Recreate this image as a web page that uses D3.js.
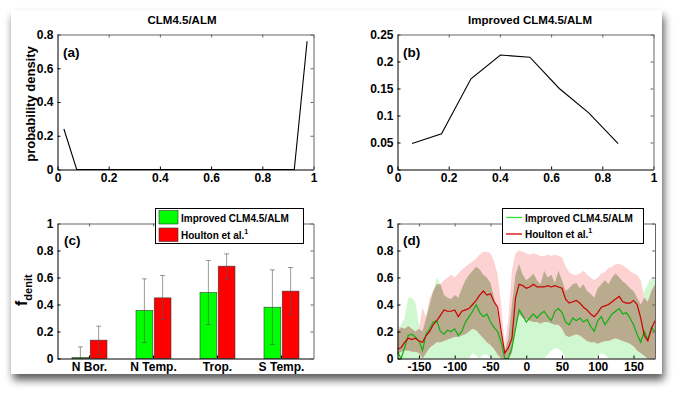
<!DOCTYPE html>
<html><head><meta charset="utf-8">
<script src="https://cdn.jsdelivr.net/npm/d3@7"></script>
<style>
body{margin:0;background:#fff;}
svg text{font-family:"Liberation Sans",Arial,Helvetica,sans-serif;font-weight:bold;}
</style></head><body>
<svg id="fig" width="680" height="395"></svg>
<script>
// ---------- data ----------
const titleA = "CLM4.5/ALM";
const titleB = "Improved CLM4.5/ALM";
// panel (a): probability density, CLM4.5/ALM
const binA = [0.025,0.075,0.125,0.175,0.225,0.275,0.325,0.375,0.425,0.475,0.525,0.575,0.625,0.675,0.725,0.775,0.825,0.875,0.925,0.975];
const densA = [0.24,0,0,0,0,0,0,0,0,0,0,0,0,0,0,0,0,0,0,0.76];
// panel (b): probability density, improved
const binB = [0.057,0.172,0.287,0.402,0.517,0.632,0.747,0.862];
const densB = [0.048,0.066,0.168,0.212,0.208,0.150,0.105,0.048];
// panel (c): regional f_denit
const regions = ["N Bor.","N Temp.","Trop.","S Temp."];
const seriesNames = ["Improved CLM4.5/ALM","Houlton et al."];
const fModel = [0.007,0.356,0.489,0.380];
const fModelLo = [0.0,0.118,0.252,0.104];
const fModelHi = [0.086,0.590,0.726,0.657];
const fHoulton = [0.136,0.449,0.684,0.499];
const fHoultonLo = [0.030,0.289,0.588,0.326];
const fHoultonHi = [0.240,0.615,0.775,0.674];
// panel (d): longitudinal f_denit
const lon = [-180,-175,-170,-165,-160,-155,-150,-145,-140,-135,-130,-125,-120,-115,-110,-105,-100,-95,-90,-85,-80,-75,-70,-65,-60,-55,-50,-45,-40,-35,-30,-25,-20,-15,-10,-5,0,5,10,15,20,25,30,35,40,45,50,55,60,65,70,75,80,85,90,95,100,105,110,115,120,125,130,135,140,145,150,155,160,165,170,175,180];
const redMean = [0.07,0.08,0.12,0.15,0.14,0.15,0.13,0.12,0.17,0.20,
  0.25,0.28,0.32,0.36,0.35,0.35,0.36,0.31,0.35,0.36,
  0.37,0.40,0.43,0.47,0.50,0.47,0.48,0.42,0.38,0.20,
  0.04,0.08,0.15,0.45,0.55,0.54,0.52,0.53,0.55,0.53,
  0.53,0.53,0.54,0.53,0.54,0.53,0.52,0.44,0.41,0.42,
  0.43,0.41,0.38,0.36,0.33,0.31,0.34,0.38,0.39,0.40,
  0.42,0.44,0.46,0.42,0.41,0.41,0.43,0.40,0.30,0.17,
  0.13,0.22,0.28];
const redUpper = [0.24,0.23,0.22,0.24,0.22,0.20,0.22,0.38,0.30,0.45,
  0.50,0.55,0.55,0.58,0.60,0.62,0.60,0.63,0.66,0.68,
  0.70,0.72,0.74,0.77,0.79,0.79,0.78,0.72,0.62,0.40,
  0.10,0.30,0.65,0.78,0.80,0.79,0.78,0.77,0.78,0.77,
  0.76,0.76,0.77,0.76,0.77,0.76,0.75,0.68,0.64,0.62,
  0.62,0.63,0.65,0.62,0.60,0.58,0.60,0.63,0.64,0.67,
  0.68,0.70,0.70,0.69,0.67,0.65,0.63,0.62,0.58,0.45,
  0.42,0.50,0.55];
const redLower = [0.03,0.05,0.06,0.06,0.05,0.05,0.04,0.00,0.04,0.08,
  0.10,0.12,0.12,0.13,0.14,0.15,0.16,0.16,0.17,0.18,
  0.20,0.22,0.21,0.18,0.15,0.12,0.10,0.07,0.03,0.00,
  0.00,0.00,0.04,0.25,0.33,0.30,0.29,0.28,0.27,0.27,
  0.26,0.27,0.27,0.26,0.25,0.25,0.22,0.17,0.16,0.17,
  0.18,0.17,0.15,0.13,0.12,0.12,0.11,0.12,0.13,0.13,
  0.14,0.15,0.14,0.13,0.12,0.11,0.09,0.06,0.04,0.02,
  0.00,0.00,0.00];
const greenMean = [0.05,0.00,0.08,0.17,0.18,0.16,0.13,0.06,0.18,0.22,
  0.27,0.28,0.20,0.18,0.21,0.20,0.22,0.17,0.20,0.27,
  0.31,0.35,0.40,0.34,0.31,0.33,0.27,0.23,0.20,0.12,
  0.00,0.00,0.08,0.22,0.36,0.32,0.27,0.30,0.33,0.30,
  0.33,0.35,0.31,0.28,0.35,0.37,0.34,0.27,0.25,0.30,
  0.28,0.30,0.27,0.29,0.24,0.20,0.28,0.31,0.25,0.29,
  0.33,0.35,0.37,0.33,0.34,0.30,0.25,0.18,0.12,0.20,
  0.14,0.23,0.20];
const greenUpper = [0.20,0.25,0.30,0.45,0.45,0.42,0.25,0.20,0.32,0.40,
  0.50,0.60,0.55,0.47,0.45,0.44,0.47,0.45,0.52,0.58,
  0.62,0.65,0.68,0.66,0.62,0.60,0.56,0.45,0.35,0.18,
  0.05,0.15,0.40,0.62,0.70,0.62,0.58,0.60,0.63,0.58,
  0.55,0.65,0.60,0.62,0.56,0.65,0.58,0.50,0.52,0.55,
  0.56,0.52,0.55,0.50,0.48,0.45,0.52,0.55,0.58,0.55,
  0.60,0.63,0.60,0.57,0.55,0.52,0.50,0.45,0.40,0.50,
  0.55,0.60,0.58];
const greenLower = [0,0,0,0,0,0,0,0,0,0,
  0,0,0,0,0,0,0,0,0,0,
  0,0.04,0.02,0,0.03,0.03,0,0,0,0,
  0,0,0,0,0,0,0,0,0,0,
  0,0,0.03,0.06,0.08,0.07,0.05,0,0,0,
  0,0,0,0,0,0,0.02,0.04,0.03,0,
  0,0,0,0,0,0,0,0,0,0,
  0,0,0];
// tick values
const ticksUnit = [0,0.2,0.4,0.6,0.8,1];
const ticksA = [0,0.2,0.4,0.6,0.8];
const ticksB = [0,0.05,0.1,0.15,0.2,0.25];
const ticksLon = [-150,-100,-50,0,50,100,150];

// ---------- drawing ----------
const svg = d3.select("#fig");
const defs = svg.append("defs");
const f = defs.append("filter").attr("id","sh").attr("x","-5%").attr("y","-5%").attr("width","115%").attr("height","120%");
f.append("feGaussianBlur").attr("in","SourceAlpha").attr("stdDeviation",4);
f.append("feOffset").attr("dx",2).attr("dy",6).attr("result","ob");
f.append("feComponentTransfer").append("feFuncA").attr("type","linear").attr("slope",0.65);
const fm = f.append("feMerge"); fm.append("feMergeNode"); fm.append("feMergeNode").attr("in","SourceGraphic");
svg.append("rect").attr("x",11).attr("y",10).attr("width",651).attr("height",364).attr("fill","#fff").attr("filter","url(#sh)");

const fmt = d => String(+(+d).toFixed(6));

function axes(g, x, y, xt, yt, xFmt) {
  const [x0,x1] = x.range(), [yb,yt0] = y.range();
  const gb = g.append("g").attr("transform",`translate(0,${yb})`)
    .call(d3.axisBottom(x).tickValues(xt).tickFormat(xFmt).tickSizeInner(-3).tickSizeOuter(0).tickPadding(4));
  const gl = g.append("g").attr("transform",`translate(${x0},0)`)
    .call(d3.axisLeft(y).tickValues(yt).tickFormat(fmt).tickSizeInner(-3).tickSizeOuter(0).tickPadding(4));
  const gt = g.append("g").attr("transform",`translate(0,${yt0})`)
    .call(d3.axisTop(x).tickValues(xt).tickFormat("").tickSizeInner(-3).tickSizeOuter(0));
  const gr = g.append("g").attr("transform",`translate(${x1},0)`)
    .call(d3.axisRight(y).tickValues(yt).tickFormat("").tickSizeInner(-3).tickSizeOuter(0));
  [gb,gl].forEach(a => { a.selectAll("path,line").attr("stroke","#000"); a.selectAll("text").attr("fill","#000").style("font-size","12px"); });
  [gt,gr].forEach(a => { a.selectAll("path,line").attr("stroke","#666"); });
}

// panel a
{
  const x = d3.scaleLinear().domain([0,1]).range([57.5,313.5]);
  const y = d3.scaleLinear().domain([0,0.8]).range([169.5,34.5]);
  const g = svg.append("g");
  g.append("path").datum(densA.map((v,i)=>[binA[i],v]))
    .attr("d", d3.line().x(d=>x(d[0])).y(d=>y(d[1]))).attr("fill","none").attr("stroke","#000").attr("stroke-width",1.1);
  axes(g,x,y,ticksUnit,ticksA,fmt);
  svg.append("text").attr("x",182).attr("y",24).attr("text-anchor","middle").style("font-size","11.5px").text(titleA);
  svg.append("text").attr("x",63).attr("y",57).style("font-size","13.5px").text("(a)");
  svg.append("text").attr("transform","translate(35,104) rotate(-90)").attr("text-anchor","middle").style("font-size","13px").text("probability density");
}
// panel b
{
  const x = d3.scaleLinear().domain([0,1]).range([397.5,653.5]);
  const y = d3.scaleLinear().domain([0,0.25]).range([169.5,34.5]);
  const g = svg.append("g");
  g.append("path").datum(densB.map((v,i)=>[binB[i],v]))
    .attr("d", d3.line().x(d=>x(d[0])).y(d=>y(d[1]))).attr("fill","none").attr("stroke","#000").attr("stroke-width",1.1);
  axes(g,x,y,ticksUnit,ticksB,fmt);
  svg.append("text").attr("x",530).attr("y",24).attr("text-anchor","middle").style("font-size","11.5px").text(titleB);
  svg.append("text").attr("x",403).attr("y",57).style("font-size","13.5px").text("(b)");
}
// panel c
{
  const x = d3.scaleBand().domain(regions).range([57.5,313.5]).paddingInner(0).paddingOuter(0);
  const y = d3.scaleLinear().domain([0,1]).range([358.5,223.5]);
  const xs = d3.scaleBand().domain(seriesNames).range([-17.5,17.5]).paddingInner(0.08);
  const g = svg.append("g");
  const cols = ["#00ff00","#ff0000"];
  const vals = [fModel,fHoulton], lo=[fModelLo,fHoultonLo], hi=[fModelHi,fHoultonHi];
  seriesNames.forEach((s,k)=>{
    regions.forEach((r,i)=>{
      const cx = x(r)+x.bandwidth()/2;
      g.append("rect").attr("x",cx+xs(s)).attr("width",xs.bandwidth())
        .attr("y",y(vals[k][i])).attr("height",y(0)-y(vals[k][i]))
        .attr("fill",cols[k]).attr("stroke","#3a3a3a").attr("stroke-width",0.6);
    });
  });
  seriesNames.forEach((s,k)=>{
    regions.forEach((r,i)=>{
      const cx = x(r)+x.bandwidth()/2 + xs(s) + xs.bandwidth()/2;
      const e = g.append("g").attr("stroke","#555").attr("stroke-width",0.8).attr("stroke-opacity",0.75);
      e.append("line").attr("x1",cx).attr("x2",cx).attr("y1",y(lo[k][i])).attr("y2",y(hi[k][i]));
      e.append("line").attr("x1",cx-2.5).attr("x2",cx+2.5).attr("y1",y(lo[k][i])).attr("y2",y(lo[k][i]));
      e.append("line").attr("x1",cx-2.5).attr("x2",cx+2.5).attr("y1",y(hi[k][i])).attr("y2",y(hi[k][i]));
    });
  });
  axes(g,x,y,regions,ticksUnit,d=>d);
  svg.append("text").attr("x",64).attr("y",245).style("font-size","13.5px").text("(c)");
  const yl = svg.append("text").attr("transform","translate(27,306) rotate(-90)");
  yl.append("tspan").style("font-size","16px").text("f");
  yl.append("tspan").attr("dy",5).style("font-size","11px").text("denit");
  // legend
  const lg = svg.append("g");
  lg.append("rect").attr("x",155.5).attr("y",208.5).attr("width",148).attr("height",35).attr("fill","#fff").attr("stroke","#000");
  seriesNames.forEach((s,k)=>{
    lg.append("rect").attr("x",159).attr("y",210.5+k*17.5).attr("width",19).attr("height",13.5).attr("fill",cols[k]).attr("stroke","#333").attr("stroke-width",0.6);
    const t = lg.append("text").attr("x",181).attr("y",221.5+k*17).style("font-size","10px").text(s);
    if (k===1) t.append("tspan").attr("dy",-5).style("font-size","7px").text("1");
  });
}
// panel d
{
  const x = d3.scaleLinear().domain([-180,180]).range([397.5,655]);
  const y = d3.scaleLinear().domain([0,1]).range([358.5,223.5]);
  const g = svg.append("g");
  const idx = d3.range(lon.length);
  const band = (lo,hi) => d3.area().x(i=>x(lon[i])).y0(i=>y(lo(i))).y1(i=>y(hi(i)));
  g.append("path").datum(idx).attr("d",band(i=>greenLower[i],i=>greenUpper[i])).attr("fill","#d0f8d0");
  g.append("path").datum(idx).attr("d",band(i=>redLower[i],i=>redUpper[i])).attr("fill","#fdd2d2");
  g.append("path").datum(idx).attr("d",band(
      i=>Math.max(greenLower[i],redLower[i]),
      i=>Math.max(Math.max(greenLower[i],redLower[i]),Math.min(greenUpper[i],redUpper[i]))))
    .attr("fill","#b8ab8e");
  g.append("path").datum(idx).attr("d",d3.line().x(i=>x(lon[i])).y(i=>y(greenMean[i])))
    .attr("fill","none").attr("stroke","#10b010").attr("stroke-width",1.2);
  g.append("path").datum(idx).attr("d",d3.line().x(i=>x(lon[i])).y(i=>y(redMean[i])))
    .attr("fill","none").attr("stroke","#cc0000").attr("stroke-width",1.2);
  axes(g,x,y,ticksLon,ticksUnit,fmt);
  svg.append("text").attr("x",403).attr("y",245).style("font-size","13.5px").text("(d)");
  const lg = svg.append("g");
  lg.append("rect").attr("x",502.5).attr("y",208.5).attr("width",141).attr("height",35).attr("fill","#fff").attr("stroke","#000");
  const lc = ["#33e633","#dd0000"];
  seriesNames.forEach((s,k)=>{
    lg.append("line").attr("x1",506).attr("x2",522).attr("y1",217.5+k*16.5).attr("y2",217.5+k*16.5).attr("stroke",lc[k]).attr("stroke-width",1.3);
    const t = lg.append("text").attr("x",525).attr("y",221.5+k*16.5).style("font-size","10px").text(s);
    if (k===1) t.append("tspan").attr("dy",-5).style("font-size","7px").text("1");
  });
}
</script></body></html>
